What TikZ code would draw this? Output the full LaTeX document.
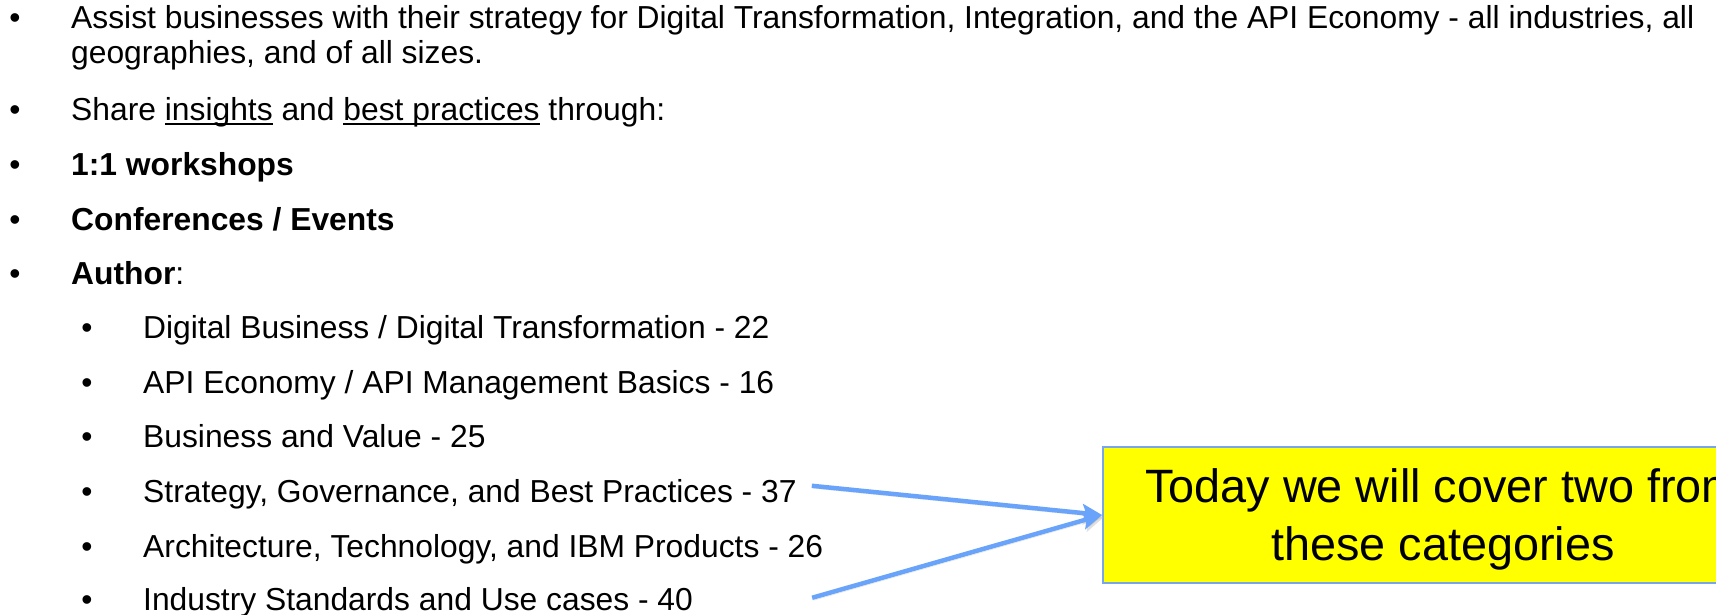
\documentclass[tikz,border=0pt]{standalone}
\usepackage{fontspec}
\setmainfont{Liberation Sans}
\usepackage{xcolor}
\usetikzlibrary{arrows.meta, positioning, calc}
\definecolor{arrowblue}{RGB}{106, 163, 250}
\definecolor{edgeblue}{RGB}{120, 165, 235}
\definecolor{noteyellow}{RGB}{255, 255, 0}
\newcommand{\ulword}[1]{\leavevmode\setbox0\hbox{#1}\rlap{\rule[-5pt]{\wd0}{2.2pt}}\box0\relax}
\tikzstyle{line} = [anchor=base west, inner sep=0pt, font=\fontsize{31.8}{38}\selectfont]
\tikzstyle{dot} = [anchor=base, inner sep=0pt, font=\fontsize{31.8}{38}\selectfont]
\tikzstyle{callout} = [rectangle, minimum width=680pt, minimum height=136pt, align=center, text depth=0.8pt, draw=edgeblue, line width=1.8pt, fill=noteyellow, font=\fontsize{46.8}{58}\selectfont]
\tikzstyle{arrow} = [line width=4.5pt, draw=arrowblue, -{Stealth[length=20pt, width=18pt, inset=4pt]}, preaction={draw=black!30, opacity=0.4, transform canvas={shift={(1.5pt,-2.5pt)}}}]

\begin{document}
\begin{tikzpicture}[x=1pt, y=1pt]
\useasboundingbox (0,0) rectangle (1716,-614);

% bullets
\foreach \y in {28,120,175,230,284} \node [dot] at (15,-\y) {\textbullet};
\foreach \y in {338,393,447,502,557,610} \node [dot] at (87,-\y) {\textbullet};

% top level
\node (assist) [line] at (71,-28) {Assist businesses with their strategy for Digital Transformation, Integration, and the API Economy - all industries, all};
\node (geo) [line] at (71,-63) {geographies, and of all sizes.};
\node (share) [line] at (71,-120) {Share \ulword{insights} and \ulword{best practices} through:};
\node (workshops) [line] at (71,-175) {\textbf{1:1 workshops}};
\node (confs) [line] at (71,-230) {\textbf{Conferences / Events}};
\node (author) [line] at (71,-284) {\textbf{Author}:};

% categories
\node (digital) [line] at (143,-338) {Digital Business / Digital Transformation - 22};
\node (apieco) [line] at (143,-393) {API Economy / API Management Basics - 16};
\node (bizvalue) [line] at (143,-447) {Business and Value - 25};
\node (strategy) [line] at (143,-502) {Strategy, Governance, and Best Practices - 37};
\node (archtech) [line] at (143,-557) {Architecture, Technology, and IBM Products - 26};
\node (industry) [line] at (143,-610) {Industry Standards and Use cases - 40};

\node (today) [callout] at (1443,-515) {Today we will cover two from\\these categories};

% Arrows
\draw [arrow] ([xshift=15pt, yshift=8pt]strategy.east) -- (today.west);
\draw [arrow] ([xshift=119pt, yshift=4pt]industry.east) -- (today.west);

\end{tikzpicture}
\end{document}
